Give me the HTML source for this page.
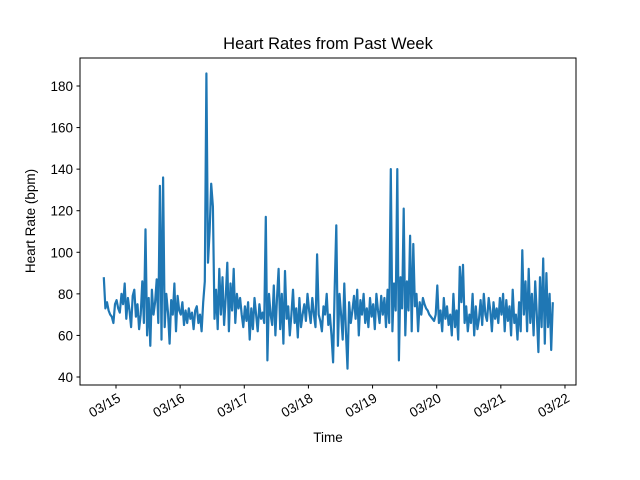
<!DOCTYPE html>
<html><head><meta charset="utf-8"><style>body{margin:0;background:#fff}svg{display:block;font-family:"Liberation Sans","DejaVu Sans",sans-serif}</style></head>
<body>
<svg id="chart" width="640" height="480">
<rect width="640" height="480" fill="#fff"/>
<text x="328" y="49" text-anchor="middle" font-size="16.5">Heart Rates from Past Week</text>
<text x="328" y="442" text-anchor="middle" font-size="13.5">Time</text>
<text transform="translate(35,221) rotate(-90)" text-anchor="middle" font-size="13.5">Heart Rate (bpm)</text>
<g id="plot"></g>
<rect x="80" y="58" width="496" height="327" fill="none" stroke="#000" stroke-width="1"/>
</svg>
<script>
const startDay = -0.19;
const sampleStep = 0.025;
const xTickLabels = ["03/15","03/16","03/17","03/18","03/19","03/20","03/21","03/22"];
const yTicks = [40,60,80,100,120,140,160,180];
const heartRates = [88,73,76,72,70,69,66,75,
77,73,71,80,75,85,68,78,72,64,79,82,69,75,63,70,86,66,111,60,78,55,82,70,76,87,66,132,58,136,64,80,71,56,77,70,85,62,79,72,
70,76,65,72,66,73,68,71,63,72,74,66,70,62,76,86,186,95,110,133,122,68,82,63,92,70,88,65,78,95,62,85,72,92,66,80,73,78,70,64,
74,67,76,58,73,63,78,70,62,75,68,71,66,117,48,80,70,65,84,60,78,92,63,80,56,91,68,74,60,70,82,66,73,59,78,64,70,75,67,80,
72,66,78,70,64,99,70,67,62,74,70,80,65,70,60,47,83,113,55,80,70,58,85,62,44,76,66,72,79,68,82,60,77,70,80,66,73,64,78,69,
75,63,80,72,66,79,70,78,64,82,66,140,62,85,72,140,48,88,73,121,60,86,72,108,62,104,74,80,62,76,70,78,75,73,72,70,69,68,67,70,
84,66,72,62,78,68,74,65,70,60,80,64,72,58,93,76,94,66,74,62,70,66,80,60,74,63,68,77,65,80,70,67,78,72,62,76,68,73,66,78,
70,80,62,77,67,74,60,82,66,70,58,76,62,101,70,86,62,92,66,80,60,86,70,52,88,64,97,56,90,64,80,53,76];
const NS="http://www.w3.org/2000/svg";
const xs = d => 116 + d*64.14;
const ys = v => 377 - (v-40)*2.0786;
const g = document.getElementById('plot');
function mk(tag, attrs){const e=document.createElementNS(NS,tag);for(const k in attrs)e.setAttribute(k,attrs[k]);g.appendChild(e);return e;}
yTicks.forEach(v=>{
  const y=ys(v);
  const t=mk('line',{x1:76.5,x2:80,y1:y,y2:y,stroke:'#000'});
  
  
  const l=mk('text',{x:73,y:y+5,'text-anchor':'end','font-size':'13.5'});
  l.textContent=v;
  
  
});
xTickLabels.forEach((s,i)=>{
  const x=xs(i);
  const t=mk('line',{x1:x,x2:x,y1:385,y2:388.5,stroke:'#000'});
  
  
  const l=mk('text',{transform:`translate(${x+1},${393}) rotate(-30)`,'text-anchor':'end','font-size':'13.5',y:'9'});
  l.textContent=s;
  
  
});
const pts = heartRates.map((v,i)=>xs(startDay+i*sampleStep).toFixed(1)+','+ys(v).toFixed(1)).join(' ');
const line = mk('polyline',{points:pts,fill:'none',stroke:'#1f77b4','stroke-width':2.2,'stroke-linejoin':'round'});


</script>
</body></html>
